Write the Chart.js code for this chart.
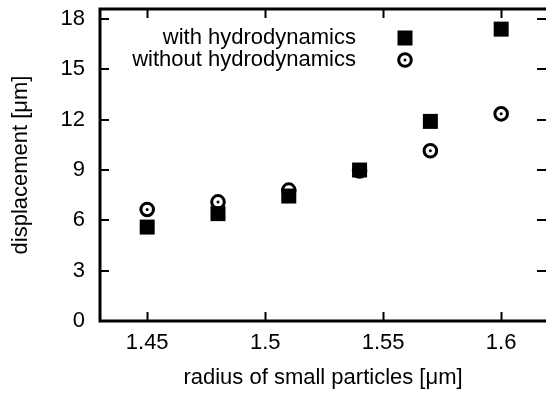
<!DOCTYPE html>
<html>
<head>
<meta charset="utf-8">
<script src="https://cdn.jsdelivr.net/npm/chart.js@4/dist/chart.umd.min.js"></script>
<style>
  html, body { margin: 0; padding: 0; background: #fff; }
  #wrap { width: 546px; height: 393px; }
</style>
</head>
<body>
<div id="wrap"><canvas id="chart" width="546" height="393"></canvas></div>
<script>
const radius = [1.45, 1.48, 1.51, 1.54, 1.57, 1.6];
const withHydro = [5.6, 6.4, 7.45, 9.0, 11.9, 17.4];
const withoutHydro = [6.65, 7.1, 7.8, 8.95, 10.15, 12.35];
const xTicks = [1.45, 1.5, 1.55, 1.6];
const yTicks = [0, 3, 6, 9, 12, 15, 18];
const legendLabels = ['with hydrodynamics', 'without hydrodynamics'];

const FONT = "'Liberation Sans', Arial, Helvetica, sans-serif";
const INK = '#000';

const toPoints = ys => radius.map((x, i) => ({ x: x, y: ys[i] }));

const squareStyle = { pointStyle: 'rect', radius: 10.6, rotation: 0 };
const ringStyle = { pointStyle: 'circle', radius: 6.3, rotation: 0 };
const dotStyle = { pointStyle: 'circle', radius: 1.5, rotation: 0 };

// strip the label overhang paddings so the plot box sits where the reference has it
const noPad = s => { s.paddingLeft = 0; s.paddingRight = 0; s.paddingTop = 0; s.paddingBottom = 0; };

// frame, inward ticks on all sides, and the key inside the plot
const framePlugin = {
  id: 'frame',
  afterDatasetsDraw(chart) {
    const { ctx, chartArea: a, scales } = chart;
    const len = 9;
    ctx.save();
    ctx.strokeStyle = INK;
    ctx.lineWidth = 2;
    ctx.beginPath();
    for (const v of xTicks) {
      const px = Math.round(scales.x.getPixelForValue(v)) + 0.5;
      ctx.moveTo(px, a.bottom); ctx.lineTo(px, a.bottom - len);
      ctx.moveTo(px, a.top); ctx.lineTo(px, a.top + len);
    }
    for (const v of yTicks) {
      const py = Math.round(scales.y.getPixelForValue(v));
      ctx.moveTo(a.left, py); ctx.lineTo(a.left + len, py);
      ctx.moveTo(a.right, py); ctx.lineTo(a.right - len, py);
    }
    ctx.stroke();
    ctx.lineWidth = 3;
    ctx.beginPath();
    ctx.moveTo(a.right + 2, a.top);
    ctx.lineTo(a.left, a.top);
    ctx.lineTo(a.left, a.bottom);
    ctx.lineTo(a.right + 2, a.bottom);
    ctx.stroke();

    // key
    ctx.fillStyle = INK;
    ctx.font = '22px ' + FONT;
    ctx.textAlign = 'right';
    ctx.textBaseline = 'middle';
    const rows = [38, 60];
    ctx.fillText(legendLabels[0], 356, rows[0]);
    ctx.fillText(legendLabels[1], 356, rows[1]);

    ctx.fillStyle = INK;
    ctx.lineWidth = 0;
    Chart.helpers.drawPoint(ctx, squareStyle, 405, rows[0]);

    ctx.fillStyle = 'rgba(0,0,0,0)';
    ctx.strokeStyle = INK;
    ctx.lineWidth = 3;
    Chart.helpers.drawPoint(ctx, Object.assign({ borderWidth: 3 }, ringStyle), 405, rows[1]);

    ctx.fillStyle = INK;
    ctx.lineWidth = 0;
    Chart.helpers.drawPoint(ctx, dotStyle, 405, rows[1]);
    ctx.restore();
  }
};

const tickFont = { family: FONT, size: 22 };

new Chart(document.getElementById('chart'), {
  type: 'scatter',
  data: {
    datasets: [
      {
        label: legendLabels[0],
        data: toPoints(withHydro),
        pointStyle: 'rect',
        pointRadius: squareStyle.radius,
        pointBorderWidth: 0,
        pointBackgroundColor: INK,
        pointBorderColor: INK
      },
      {
        label: legendLabels[1],
        data: toPoints(withoutHydro),
        pointStyle: 'circle',
        pointRadius: ringStyle.radius,
        pointBorderWidth: 3,
        pointBackgroundColor: 'rgba(0,0,0,0)',
        pointBorderColor: INK
      },
      {
        label: 'centre',
        data: toPoints(withoutHydro),
        pointStyle: 'circle',
        pointRadius: dotStyle.radius,
        pointBorderWidth: 0,
        pointBackgroundColor: INK
      }
    ]
  },
  options: {
    responsive: false,
    animation: false,
    devicePixelRatio: 1,
    layout: { autoPadding: false, padding: { top: 9, right: 0, left: 0, bottom: 0 } },
    plugins: {
      legend: { display: false },
      tooltip: { enabled: false }
    },
    scales: {
      x: {
        type: 'linear',
        min: 1.43,
        max: 1.619,
        afterBuildTicks: s => { s.ticks = xTicks.map(v => ({ value: v })); },
        afterFit: s => { s.height = 72; noPad(s); },
        grid: { display: false, drawTicks: false },
        border: { display: false },
        ticks: { font: tickFont, color: INK, padding: 9, maxRotation: 0, autoSkip: false, callback: v => String(v) },
        title: { display: true, text: 'radius of small particles [μm]', font: tickFont, color: INK, padding: { top: 0, bottom: 2 } }
      },
      y: {
        type: 'linear',
        min: 0,
        max: 18.6,
        afterBuildTicks: s => { s.ticks = yTicks.map(v => ({ value: v })); },
        afterFit: s => { s.width = 100; noPad(s); },
        grid: { display: false, drawTicks: false },
        border: { display: false },
        ticks: { font: tickFont, color: INK, padding: 15, autoSkip: false },
        title: { display: true, text: 'displacement [μm]', font: tickFont, color: INK, padding: { top: 8, bottom: 0 } }
      }
    }
  },
  plugins: [framePlugin]
});
</script>
</body>
</html>
